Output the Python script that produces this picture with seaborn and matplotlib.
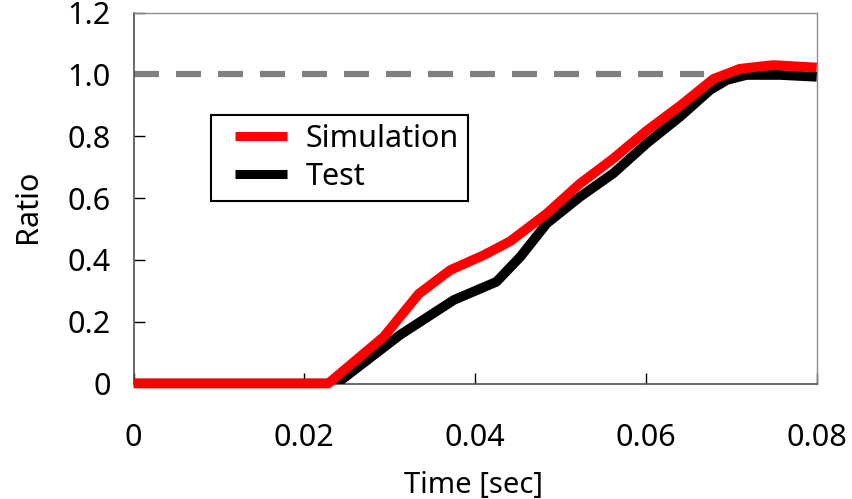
import matplotlib
matplotlib.use("Agg")
import matplotlib.pyplot as plt
from matplotlib.lines import Line2D
from matplotlib.legend_handler import HandlerLine2D
import seaborn as sns
import pandas as pd

# ---- data ----
sim_time = [0, 0.0228, 0.0293, 0.0334, 0.0371, 0.0410, 0.0441, 0.0484, 0.0523,
            0.0562, 0.0601, 0.0640, 0.0679, 0.0710, 0.0749, 0.0800]
sim_ratio = [0, 0, 0.151, 0.290, 0.367, 0.415, 0.460, 0.550, 0.647,
             0.728, 0.818, 0.898, 0.985, 1.018, 1.030, 1.022]

test_time = [0, 0.0238, 0.0312, 0.0336, 0.0375, 0.0425, 0.0453, 0.0484, 0.0523,
             0.0562, 0.0601, 0.0640, 0.0675, 0.0695, 0.0718, 0.0757, 0.0800]
test_ratio = [0, 0, 0.157, 0.200, 0.270, 0.329, 0.410, 0.518, 0.604,
              0.680, 0.777, 0.863, 0.949, 0.982, 0.998, 0.998, 0.992]

ref_time = [0, 0.0668]
ref_ratio = [1.0, 1.0]

x_ticks = [0, 0.02, 0.04, 0.06, 0.08]
x_tick_labels = ["0", "0.02", "0.04", "0.06", "0.08"]
y_ticks = [0, 0.2, 0.4, 0.6, 0.8, 1.0, 1.2]
y_tick_labels = ["0", "0.2", "0.4", "0.6", "0.8", "1.0", "1.2"]

series_names = ["Simulation", "Test"]
x_label = "Time [sec]"
y_label = "Ratio"

# ---- style ----
sns.set_style("ticks")
plt.rcParams["font.family"] = ["Noto Sans", "DejaVu Sans"]
plt.rcParams["text.color"] = "black"
plt.rcParams["axes.labelcolor"] = "black"

fig = plt.figure(figsize=(8.52, 4.99), dpi=100)
ax = fig.add_axes([133.5 / 852, (499 - 383.5) / 499, 683.2 / 852, 371 / 499])

df_sim = pd.DataFrame({"t": sim_time, "r": sim_ratio})
df_test = pd.DataFrame({"t": test_time, "r": test_ratio})
df_ref = pd.DataFrame({"t": ref_time, "r": ref_ratio})

sns.lineplot(data=df_ref, x="t", y="r", ax=ax, color="#808080", linewidth=4.5,
             linestyle=(0, (4.0, 2.72)), dash_capstyle="butt", zorder=2)
sns.lineplot(data=df_test, x="t", y="r", ax=ax, color="black", linewidth=7,
             solid_capstyle="butt", solid_joinstyle="round", zorder=3)
sns.lineplot(data=df_sim, x="t", y="r", ax=ax, color="#ff0000", linewidth=7,
             solid_capstyle="butt", solid_joinstyle="round", zorder=4, clip_on=False)

ax.set_xlim(0, 0.08)
ax.set_ylim(0, 1.2)
ax.set_xticks(x_ticks)
ax.set_xticklabels(x_tick_labels)
ax.set_yticks(y_ticks)
ax.set_yticklabels(y_tick_labels)

ax.tick_params(axis="x", direction="in", length=8, width=1, color="black",
               labelsize=22, pad=28.5, labelcolor="black")
ax.tick_params(axis="y", direction="in", length=8, width=1, color="black",
               labelsize=22, pad=16.5, labelcolor="black")

for side in ["top", "right"]:
    ax.spines[side].set_color("#8c8c8c")
    ax.spines[side].set_linewidth(1.0)
for side in ["left", "bottom"]:
    ax.spines[side].set_color("#505050")
    ax.spines[side].set_linewidth(1.2)

ax.set_xlabel(x_label, fontsize=21, color="black")
ax.set_ylabel(y_label, fontsize=22, color="black")
ax.xaxis.set_label_coords(0.497, -0.2736)
ax.xaxis.label.set_verticalalignment("center")
ax.yaxis.set_label_coords(-0.1544, 0.478)
ax.yaxis.label.set_verticalalignment("center")

handles = [Line2D([], [], color="#ff0000", linewidth=6.5, solid_capstyle="butt"),
           Line2D([], [], color="black", linewidth=6.5, solid_capstyle="butt")]
leg = ax.legend(handles, series_names, loc="upper left",
                bbox_to_anchor=((211 - 133.5) / 683.2, (383.5 - 115) / 371),
                borderaxespad=0, fontsize=22, frameon=True, fancybox=False,
                edgecolor="black", borderpad=0.3, labelspacing=0.25,
                handlelength=2.2, handletextpad=0.6,
                handler_map={Line2D: HandlerLine2D(xpad=0.5)})
leg.get_frame().set_linewidth(1.5)
leg.get_frame().set_alpha(1)
for txt in leg.get_texts():
    txt.set_color("black")

fig.savefig("out.png", dpi=100)
